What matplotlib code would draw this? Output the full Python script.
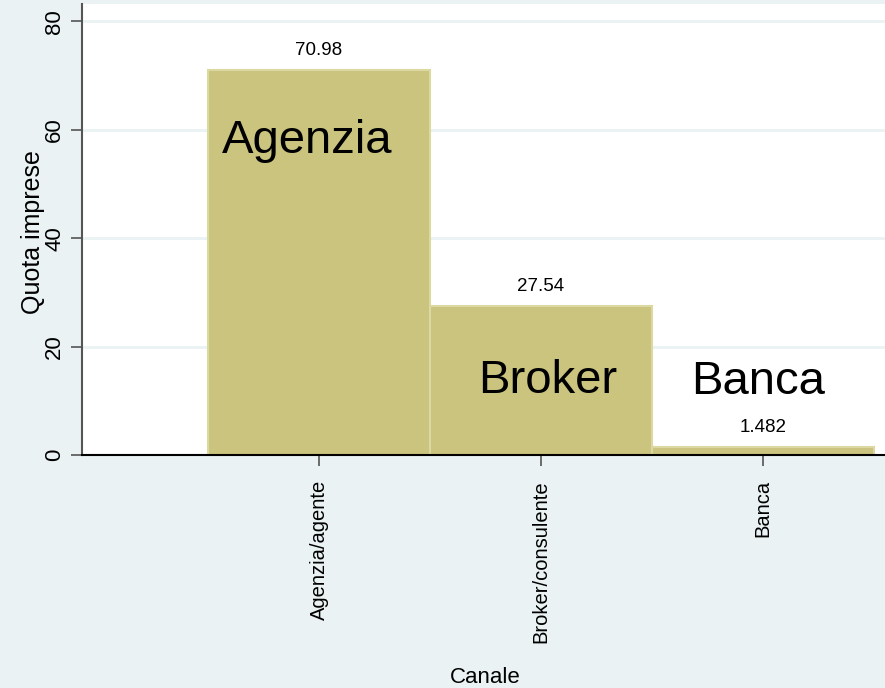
import matplotlib
matplotlib.use("Agg")
import matplotlib.pyplot as plt

categories = ["Agenzia/agente", "Broker/consulente", "Banca"]
values = [70.98, 27.54, 1.482]
value_labels = ["70.98", "27.54", "1.482"]
big_labels = ["Agenzia", "Broker", "Banca"]
yticks = [0, 20, 40, 60, 80]

BG = "#EAF2F3"
BAR = "#CBC47F"
EDGE = "#DCD8A2"

plt.rcParams['font.family'] = ['Liberation Sans', 'DejaVu Sans']

fig = plt.figure(figsize=(8.85, 6.88), dpi=100, facecolor=BG)
ax = fig.add_axes([82/885, (688-455)/688, 1 - 82/885, (455-4)/688])
ax.set_facecolor("white")

pos = [1, 2, 3]
ax.bar(pos, values, width=1.0, color=BAR, edgecolor=EDGE, linewidth=1.5, zorder=3)

ax.set_xlim(1 + (82-319)/222, 1 + (885-319)/222)
ax.set_ylim(0, 83.2)

ax.set_yticks(yticks)
ax.set_yticklabels([str(t) for t in yticks], rotation=90, va="center", fontsize=16)
ax.yaxis.grid(True, color=BG, linewidth=2, zorder=0)
ax.set_axisbelow(True)

ax.set_xticks(pos)
ax.set_xticklabels(categories, rotation=90, fontsize=14.5, va="top", ha="center")

ax.tick_params(axis="y", length=8, width=1.2, color="#555555", pad=4)
ax.tick_params(axis="x", length=8, width=1.2, color="#555555", pad=10)

for s in ["top", "right"]:
    ax.spines[s].set_visible(False)
ax.spines["left"].set_color("#555555")
ax.spines["left"].set_linewidth(1.5)
ax.spines["bottom"].set_color("black")
ax.spines["bottom"].set_linewidth(1.5)
ax.spines["bottom"].set_zorder(4)

for p, v, lab in zip(pos, values, value_labels):
    ax.annotate(lab, (p, v), xytext=(0, 14), textcoords="offset points",
                ha="center", va="center", fontsize=13.5, zorder=5)

big_pos = [(0.946, 57.9), (2.03, 13.7), (2.98, 13.5)]
for (x, y), lab in zip(big_pos, big_labels):
    ax.text(x, y, lab, ha="center", va="center", fontsize=34, zorder=5)

ax.set_ylabel("Quota imprese", fontsize=18)
ax.yaxis.set_label_coords(-37/803, (455-232)/451)
ax.set_xlabel("Canale", fontsize=16)
ax.xaxis.set_label_coords((485-82)/803, -(667-455)/451)

fig.savefig("out.png", dpi=100, facecolor=BG)
